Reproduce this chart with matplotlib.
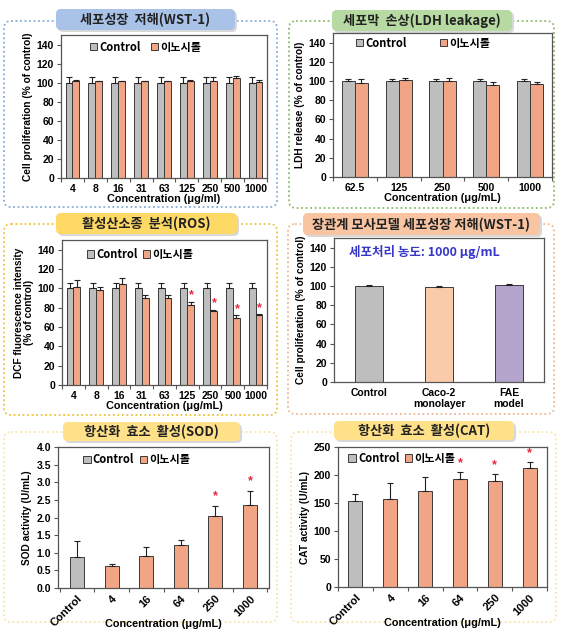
import matplotlib
matplotlib.use("Agg")
import matplotlib.pyplot as plt
import numpy as np
from matplotlib.patches import FancyBboxPatch, Patch

plt.rcParams['font.family'] = ['Liberation Sans', 'Noto Sans CJK KR', 'DejaVu Sans']
plt.rcParams['font.weight'] = 'bold'
plt.rcParams['axes.labelweight'] = 'bold'

# ---------------- data ----------------
wst_conc = ['4', '8', '16', '31', '63', '125', '250', '500', '1000']
wst_ctrl = [100, 100, 100, 100, 100, 100, 100, 100, 100]
wst_ctrl_err = [5.5, 5.5, 5.5, 5.5, 5.5, 5.5, 5.5, 5.5, 5.5]
wst_ino = [102, 101.5, 101.5, 101.5, 101.5, 102, 102, 104.5, 101]
wst_ino_err = [0.8, 0.3, 0.3, 0.3, 0.3, 0.8, 4, 3, 2]

ldh_conc = ['62.5', '125', '250', '500', '1000']
ldh_ctrl = [100, 100, 100, 100, 100]
ldh_ctrl_err = [2, 2, 2, 2, 2]
ldh_ino = [98, 101, 100, 96, 97]
ldh_ino_err = [4, 2, 3, 3, 2]

ros_conc = ['4', '8', '16', '31', '63', '125', '250', '500', '1000']
ros_ctrl = [100, 100, 100, 100, 100, 100, 100, 100, 100]
ros_ctrl_err = [6, 6, 6, 6, 6, 6, 6, 6, 6]
ros_ino = [101, 98, 105, 90, 90, 83, 77, 69, 72]
ros_ino_err = [8, 3, 6, 3, 3, 3, 1, 3, 1]
ros_sig = [False, False, False, False, False, True, True, True, True]

gut_cat = ['Control', 'Caco-2\nmonolayer', 'FAE\nmodel']
gut_val = [100, 99, 101]
gut_err = [1, 1, 1]

sod_cat = ['Control', '4', '16', '64', '250', '1000']
sod_val = [0.87, 0.63, 0.90, 1.22, 2.05, 2.35]
sod_err = [0.46, 0.06, 0.27, 0.14, 0.27, 0.39]
sod_sig = [False, False, False, False, True, True]

cat_cat = ['Control', '4', '16', '64', '250', '1000']
cat_val = [153, 158, 171, 192, 190, 212]
cat_err = [13, 27, 26, 13, 12, 12]
cat_sig = [False, False, False, True, True, True]

titles = ['세포성장  저해(WST-1)', '세포막  손상(LDH leakage)', '활성산소종  분석(ROS)',
          '장관계 모사모델 세포성장 저해(WST-1)', '항산화  효소  활성(SOD)', '항산화  효소  활성(CAT)']

# ---------------- style ----------------
W, H = 569, 633
GRAY = '#BEBEBE'
SALMON = '#F2A584'
PEACH = '#F9CBAA'
PURPLE = '#B3A5CC'
EDGE = '#3a3a3a'
STAR = '#E8283C'
CJK = ['Noto Sans CJK KR', 'DejaVu Sans']

fig = plt.figure(figsize=(W / 100, H / 100), dpi=100)
fig.patch.set_facecolor('white')

bg = fig.add_axes([0, 0, 1, 1])
bg.set_xlim(0, W)
bg.set_ylim(H, 0)
bg.axis('off')

# dotted outer boxes: (l, t, r, b, color)
boxes = [(4, 21, 277, 207, '#86ACD8'), (289, 21, 554, 208, '#8DBB6A'),
         (4, 224, 277, 415, '#EFC13A'), (288, 224, 554, 414, '#F0B892'),
         (4, 432, 277, 622, '#F8E6A6'), (291, 432, 556, 622, '#F8E6A6')]
for l, t, r, b, c in boxes:
    bg.add_patch(FancyBboxPatch((l, t), r - l, b - t,
                                boxstyle='round,pad=0,rounding_size=7',
                                fill=False, edgecolor=c, linestyle=(0, (1, 1.5)), lw=1.3))

# title boxes: (l, t, r, b, fill)
tboxes = [(56, 9, 235, 30, '#A9C3E8'), (332, 10, 512, 31, '#B7DAA2'),
          (56, 213, 237, 234, '#FFD966'), (303, 213, 540, 235, '#F8C4A2'),
          (63, 422, 240, 441, '#FFE189'), (334, 421, 514, 440, '#FFE189')]
for (l, t, r, b, c), ttl in zip(tboxes, titles):
    bg.add_patch(FancyBboxPatch((l + 2, t + 2), r - l, b - t,
                                boxstyle='round,pad=0,rounding_size=5',
                                facecolor='#D8D8D8', edgecolor='none'))
    bg.add_patch(FancyBboxPatch((l, t), r - l, b - t,
                                boxstyle='round,pad=0,rounding_size=5',
                                facecolor=c, edgecolor='none'))
    bg.text((l + r) / 2, (t + b) / 2 + 0.5, ttl, ha='center', va='center',
            fontsize=9.5, fontweight='bold', family=CJK, color='#222222')


def px_axes(l, t, r, b):
    return fig.add_axes([l / W, 1 - b / H, (r - l) / W, (b - t) / H])


def style_axes(ax, n, labels, ylim, yticks, rot=False, fs=7.5):
    ax.set_xlim(-0.5, n - 0.5)
    ax.set_ylim(*ylim)
    ax.set_yticks(yticks)
    ax.set_xticks(np.arange(n + 1) - 0.5)
    ax.set_xticklabels([])
    ax.set_xticks(np.arange(n), minor=True)
    if rot:
        ax.set_xticklabels(labels, minor=True, rotation=45, ha='right',
                           rotation_mode='anchor', fontsize=8, fontweight='bold')
    else:
        ax.set_xticklabels(labels, minor=True, fontsize=fs, fontweight='bold')
    ax.tick_params(axis='x', which='minor', length=0, pad=4)
    ax.tick_params(axis='x', which='major', length=3, width=0.8, direction='out', color='#555555')
    ax.tick_params(axis='y', length=3, width=0.8, direction='out', labelsize=fs, color='#555555', pad=2)
    for lab in ax.get_yticklabels():
        lab.set_fontweight('bold')
    for s in ax.spines.values():
        s.set_color('#555555')
        s.set_linewidth(0.9)


def legend2(ax, x, y, colors, names, spacing):
    handles = [Patch(facecolor=c, edgecolor=EDGE, lw=0.7) for c in colors]
    leg = ax.legend(handles, names, loc='center left', bbox_to_anchor=(x, y), ncol=2,
                    frameon=False, handlelength=0.65, handleheight=0.65, handletextpad=0.2,
                    columnspacing=spacing, borderaxespad=0, borderpad=0,
                    prop={'family': CJK, 'weight': 'bold', 'size': 8})
    return leg


ekw = dict(elinewidth=0.8, capthick=0.8, ecolor='#222222')


def grouped(ax, ctrl, cerr, ino, ierr, sig=None, w=0.3):
    x = np.arange(len(ctrl))
    ax.bar(x - w / 2, ctrl, w, color=GRAY, edgecolor=EDGE, lw=0.7,
           yerr=[np.zeros(len(ctrl)), cerr], capsize=2.5, error_kw=ekw)
    ax.bar(x + w / 2, ino, w, color=SALMON, edgecolor=EDGE, lw=0.7,
           yerr=[np.zeros(len(ino)), ierr], capsize=2.5, error_kw=ekw)
    if sig is not None:
        for xi, v, e, s in zip(x, ino, ierr, sig):
            if s:
                ax.text(xi + w / 2 + 0.03, v + e + 0.5, '*', color=STAR, ha='center',
                        va='bottom', fontsize=9, fontweight='bold')


# Panel 1: WST-1
ax1 = px_axes(61, 35, 267, 178)
grouped(ax1, wst_ctrl, wst_ctrl_err, wst_ino, wst_ino_err)
style_axes(ax1, len(wst_conc), wst_conc, (0, 150), np.arange(0, 141, 20))
ax1.set_ylabel('Cell proliferation (% of control)', fontsize=7.3, labelpad=3)
ax1.set_xlabel('Concentration (μg/ml)', fontsize=7.8, labelpad=0)
legend2(ax1, 0.14, 0.915, [GRAY, SALMON], ['Control', '이노시톨'], 0.9)

# Panel 2: LDH
ax2 = px_axes(333, 33, 552, 177)
grouped(ax2, ldh_ctrl, ldh_ctrl_err, ldh_ino, ldh_ino_err)
style_axes(ax2, len(ldh_conc), ldh_conc, (0, 150), np.arange(0, 141, 20))
ax2.set_ylabel('LDH release (% of control)', fontsize=7.3, labelpad=3)
ax2.set_xlabel('Concentration (μg/mL)', fontsize=7.8, labelpad=0)
legend2(ax2, 0.105, 0.93, [GRAY, SALMON], ['Control', '이노시톨'], 3.0)

# Panel 3: ROS
ax3 = px_axes(62, 240, 267, 385)
grouped(ax3, ros_ctrl, ros_ctrl_err, ros_ino, ros_ino_err, ros_sig)
style_axes(ax3, len(ros_conc), ros_conc, (0, 150), np.arange(0, 141, 20))
ax3.set_ylabel('DCF fluorescence intensity\n(% of control)', fontsize=7.3, labelpad=3, linespacing=1.0)
ax3.set_xlabel('Concentration (μg/mL)', fontsize=7.8, labelpad=0)
legend2(ax3, 0.12, 0.9, [GRAY, SALMON], ['Control', '이노시톨'], 0.5)

# Panel 4: gut model
ax4 = px_axes(334, 238, 544, 382)
x4 = np.arange(len(gut_cat))
ax4.bar(x4, gut_val, 0.4, color=[GRAY, PEACH, PURPLE], edgecolor=EDGE, lw=0.7,
        yerr=[np.zeros(len(gut_val)), gut_err], capsize=2.5, error_kw=ekw)
style_axes(ax4, len(gut_cat), gut_cat, (0, 150), np.arange(0, 141, 20))
ax4.tick_params(axis='x', which='major', length=0)
ax4.set_ylabel('Cell proliferation (% of control)', fontsize=7.3, labelpad=3)
ax4.text(0.07, 0.905, '세포처리 농도: 1000 μg/mL', transform=ax4.transAxes, color='#3535C8',
         fontsize=9, fontweight='bold', family=CJK, va='center')

# Panel 5: SOD
ax5 = px_axes(58, 447, 269, 588)
x5 = np.arange(len(sod_cat))
ax5.bar(x5, sod_val, 0.4, color=[GRAY] + [SALMON] * 5, edgecolor=EDGE, lw=0.7,
        yerr=[np.zeros(len(sod_val)), sod_err], capsize=2.5, error_kw=ekw)
for xi, v, e, s in zip(x5, sod_val, sod_err, sod_sig):
    if s:
        ax5.text(xi, v + e + 0.12, '*', color=STAR, ha='center', va='bottom', fontsize=9, fontweight='bold')
style_axes(ax5, len(sod_cat), sod_cat, (0, 4.0), np.arange(0, 4.01, 0.5), rot=True)
ax5.set_xlim(-0.55, 5.55)
ax5.yaxis.set_major_formatter(matplotlib.ticker.FormatStrFormatter('%.1f'))
ax5.set_ylabel('SOD activity (U/mL)', fontsize=7.3, labelpad=3)
ax5.set_xlabel('Concentration (μg/mL)', fontsize=7.8, labelpad=-7)
legend2(ax5, 0.12, 0.91, [GRAY, SALMON], ['Control', '이노시톨'], 0.5)

# Panel 6: CAT
ax6 = px_axes(338, 447, 547, 587)
x6 = np.arange(len(cat_cat))
ax6.bar(x6, cat_val, 0.4, color=[GRAY] + [SALMON] * 5, edgecolor=EDGE, lw=0.7,
        yerr=[np.zeros(len(cat_val)), cat_err], capsize=2.5, error_kw=ekw)
for xi, v, e, s in zip(x6, cat_val, cat_err, cat_sig):
    if s:
        ax6.text(xi, v + e + 5, '*', color=STAR, ha='center', va='bottom', fontsize=9, fontweight='bold')
style_axes(ax6, len(cat_cat), cat_cat, (0, 250), np.arange(0, 251, 50), rot=True)
ax6.set_ylabel('CAT activity (U/mL)', fontsize=7.3, labelpad=3)
ax6.set_xlabel('Concentration (μg/mL)', fontsize=7.8, labelpad=-7)
legend2(ax6, 0.05, 0.92, [GRAY, SALMON], ['Control', '이노시톨'], 0.5)

fig.savefig('out.png', dpi=100, facecolor='white')
